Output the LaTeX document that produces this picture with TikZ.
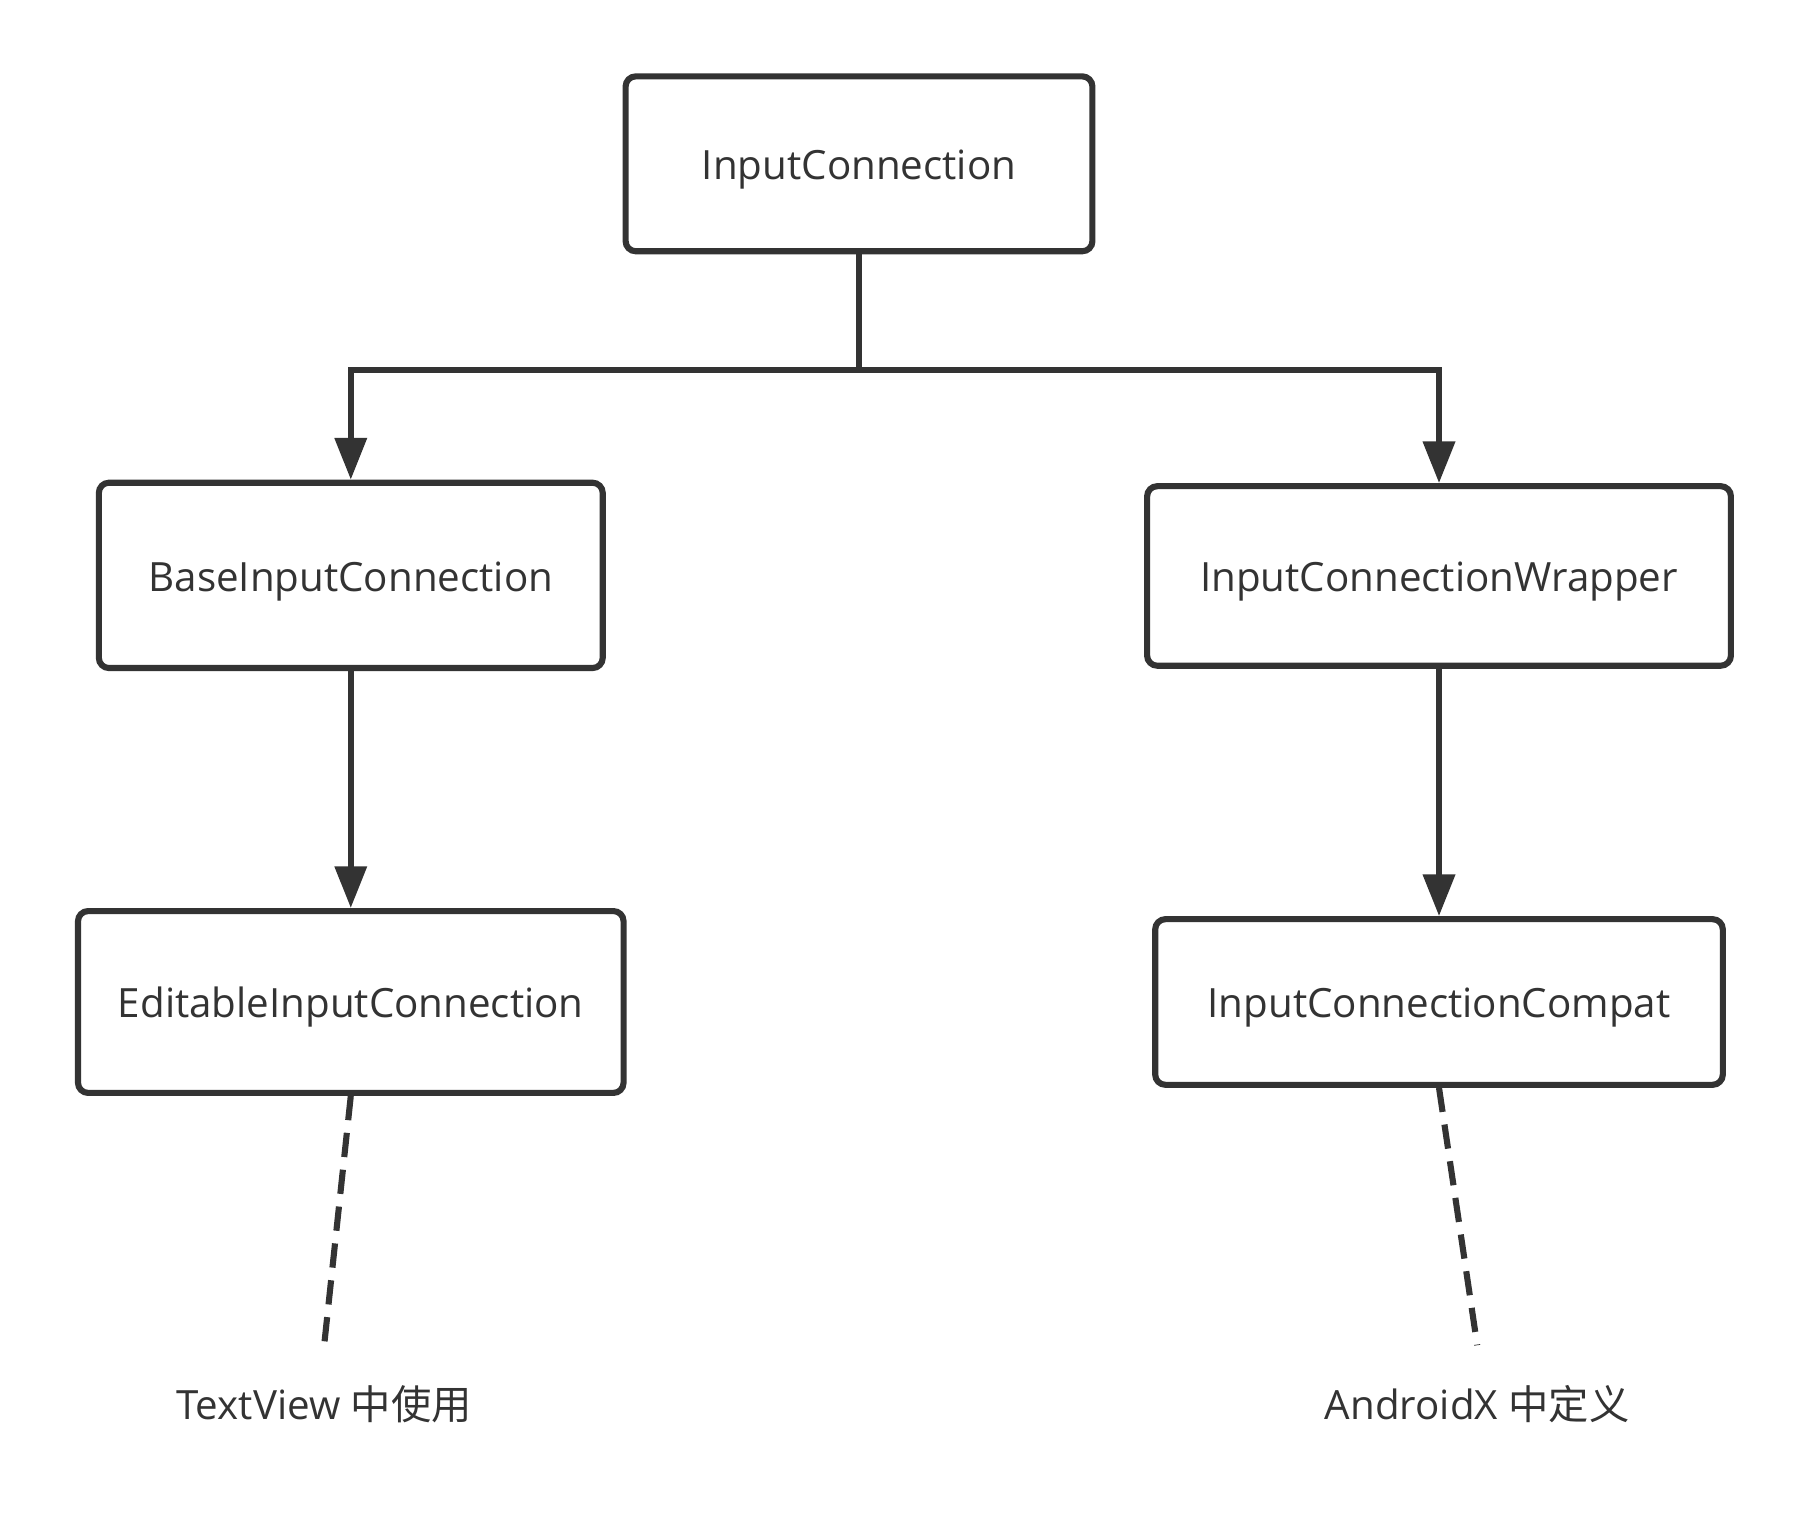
\documentclass[tikz,border=0pt]{standalone}
\usepackage{fontspec}
\setmainfont{Open Sans}
\newfontfamily\cjk{Noto Sans CJK SC}
\usetikzlibrary{arrows.meta}
\definecolor{ink}{HTML}{333333}

\tikzset{
	cls/.style = {draw = ink, line width = 1.5pt, rounded corners = 2.5pt, fill = white, text = ink, inner sep = 0pt, text height = 0.9em, text depth = 0.13em, font = \fontsize{9.9}{12}\selectfont},
	inh/.style = {draw = ink, line width = 1.5pt, -{Triangle[length = 0.36cm, width = 0.27cm]}},
	note/.style = {draw = ink, line width = 1.5pt, dash pattern = on 0.21cm off 0.11cm},
	lbl/.style = {text = ink, inner sep = 0pt, font = \fontsize{9.9}{12}\selectfont}
}

\begin{document}
\begin{tikzpicture}[x = 0.01cm, y = -0.01cm]%继承关系
	\useasboundingbox (0,0) rectangle (1560,1327);
	\node[cls, minimum width = 4.03cm, minimum height = 1.51cm] (IC) at (742,141.5) {InputConnection};
	\node[cls, minimum width = 4.35cm, minimum height = 1.60cm] (BIC) at (303,497) {BaseInputConnection};
	\node[cls, minimum width = 5.04cm, minimum height = 1.55cm] (ICW) at (1243,497.5) {InputConnectionWrapper};
	\node[cls, minimum width = 4.71cm, minimum height = 1.57cm] (EIC) at (303,865.5) {EditableInputConnection};
	\node[cls, minimum width = 4.90cm, minimum height = 1.43cm] (ICC) at (1243,865.5) {InputConnectionCompat};
	\draw[inh] (IC.south) -- ++(0,100) -| (BIC.north);
	\draw[inh] (IC.south) -- ++(0,100) -| (ICW.north);
	\draw[inh] (BIC.south) -- (EIC.north);
	\draw[inh] (ICW.south) -- (ICC.north);
	\coordinate (TVend) at (280,1162);
	\coordinate (AXend) at (1276,1162);
	\draw[note] (EIC.south) -- (TVend);
	\draw[note] (ICC.south) -- (AXend);
	\node[lbl] (TV) at (280,1213) {TextView {\cjk 中使用}};
	\node[lbl] (AX) at (1276,1213) {AndroidX {\cjk 中定义}};
\end{tikzpicture}
\end{document}
